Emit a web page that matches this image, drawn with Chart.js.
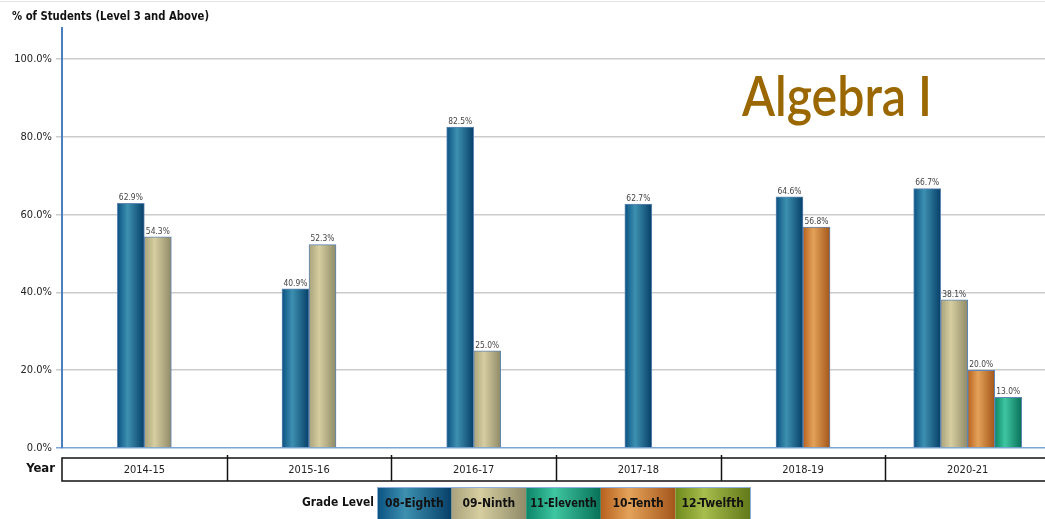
<!DOCTYPE html>
<html>
<head>
<meta charset="utf-8">
<script src="https://cdn.jsdelivr.net/npm/chart.js@4/dist/chart.umd.min.js"></script>
<style>
  html, body { margin: 0; padding: 0; background: #fff; overflow: hidden; }
  #chart { display: block; }
</style>
</head>
<body>
<canvas id="chart" width="1050" height="519"></canvas>
<script>
const years = ['2014-15', '2015-16', '2016-17', '2017-18', '2018-19', '2020-21'];
const eighth = [62.9, 40.9, 82.5, 62.7, 64.6, 66.7];
const ninth = [54.3, 52.3, 25.0, null, null, 38.1];
const tenth = [null, null, null, null, 56.8, 20.0];
const eleventh = [null, null, null, null, null, 13.0];
const twelfth = [null, null, null, null, null, null];
const yTicks = [0, 20, 40, 60, 80, 100];

const narrow = '"Liberation Sans Narrow", "DejaVu Sans Condensed", "Arial Narrow", sans-serif';

// gradient stops per grade: dark edge, light band, dark edge
const shades = {
  '08-Eighth':   ['#0b5282', '#3d90b0', '#063f68'],
  '09-Ninth':    ['#a9a27c', '#d6cea0', '#8f8a68'],
  '10-Tenth':    ['#b8621f', '#e3a259', '#a4561a'],
  '11-Eleventh': ['#0b8468', '#3fc6a0', '#087158'],
  '12-Twelfth':  ['#6f8a1c', '#a7bd4c', '#62791a']
};
const legendOrder = ['08-Eighth', '09-Ninth', '11-Eleventh', '10-Tenth', '12-Twelfth'];

function shade(ctx, name, x0, x1) {
  const c = shades[name];
  const g = ctx.createLinearGradient(x0, 0, x1, 0);
  g.addColorStop(0, c[0]);
  g.addColorStop(0.38, c[1]);
  g.addColorStop(1, c[2]);
  return g;
}

const barShading = {
  id: 'barShading',
  beforeDatasetsDraw(chart) {
    chart.data.datasets.forEach((ds, i) => {
      const meta = chart.getDatasetMeta(i);
      meta.data.forEach((el, j) => {
        if (ds.data[j] == null || !el.options) return;
        el.options.backgroundColor = shade(chart.ctx, ds.label, el.x - el.width / 2, el.x + el.width / 2);
      });
    });
  },
  afterDatasetsDraw(chart) {
    const ctx = chart.ctx;
    ctx.save();
    ctx.font = '9px ' + narrow;
    ctx.fillStyle = '#444';
    ctx.textAlign = 'center';
    ctx.textBaseline = 'bottom';
    chart.data.datasets.forEach((ds, i) => {
      const meta = chart.getDatasetMeta(i);
      meta.data.forEach((el, j) => {
        if (ds.data[j] == null) return;
        ctx.fillText(ds.data[j].toFixed(1) + '%', el.x, el.y - 1, 24);
      });
    });
    ctx.restore();
  }
};

const decorations = {
  id: 'decorations',
  afterDraw(chart) {
    const ctx = chart.ctx;
    const area = chart.chartArea;
    const xs = chart.scales.x;
    ctx.save();

    // faint frame line at top
    ctx.strokeStyle = '#e2e2e2';
    ctx.lineWidth = 1;
    ctx.beginPath(); ctx.moveTo(0, 1.5); ctx.lineTo(1050, 1.5); ctx.stroke();

    // y axis title
    ctx.fillStyle = '#111';
    ctx.font = 'bold 12px ' + narrow;
    ctx.textAlign = 'left';
    ctx.textBaseline = 'middle';
    ctx.fillText('% of Students (Level 3 and Above)', 12, 17, 197);

    // subject title
    ctx.fillStyle = '#9a6700';
    ctx.font = '600 56px Lato, "Open Sans", sans-serif';
    ctx.textBaseline = 'alphabetic';
    ctx.fillText('Algebra I', 742, 116, 190);

    // year table under the axis
    const top = 458, bottom = 481;
    ctx.strokeStyle = '#111';
    ctx.lineWidth = 1.5;
    ctx.strokeRect(area.left, top, area.right - area.left, bottom - top);
    const step = xs.getPixelForValue(1) - xs.getPixelForValue(0);
    for (let i = 0; i < years.length - 1; i++) {
      const x = Math.round(xs.getPixelForValue(i) + step / 2) + 0.5;
      ctx.beginPath(); ctx.moveTo(x, top - 3); ctx.lineTo(x, bottom); ctx.stroke();
    }
    ctx.fillStyle = '#111';
    ctx.font = 'bold 13px ' + narrow;
    ctx.textAlign = 'right';
    ctx.textBaseline = 'middle';
    ctx.fillText('Year', 55, 469, 30);

    // legend
    ctx.fillText('Grade Level', 374, 503, 72);
    const bw = 74.6, bx = 377, by = 487, bh = 34;
    ctx.font = 'bold 12px ' + narrow;
    legendOrder.forEach((name, k) => {
      const x0 = bx + k * bw;
      ctx.fillStyle = shade(ctx, name, x0, x0 + bw);
      ctx.fillRect(x0, by, bw, bh);
      ctx.fillStyle = '#111';
      ctx.textAlign = 'center';
      ctx.fillText(name, x0 + bw / 2, 504, bw - 8);
    });
    ctx.strokeStyle = '#8fb0d6';
    ctx.lineWidth = 1;
    ctx.strokeRect(bx + 0.5, by + 0.5, bw * legendOrder.length, bh);
    ctx.restore();
  }
};

function makeSet(label, data) {
  return {
    label, data,
    backgroundColor: () => '#888',
    borderColor: '#5f86b3',
    borderWidth: 1,
    barThickness: 27,
    skipNull: true
  };
}

new Chart(document.getElementById('chart'), {
  type: 'bar',
  data: {
    labels: years,
    datasets: [
      makeSet('08-Eighth', eighth),
      makeSet('09-Ninth', ninth),
      makeSet('10-Tenth', tenth),
      makeSet('11-Eleventh', eleventh),
      makeSet('12-Twelfth', twelfth)
    ]
  },
  options: {
    responsive: false,
    animation: false,
    layout: { padding: { top: 28, right: 0, bottom: 0, left: 0 } },
    plugins: { legend: { display: false }, tooltip: { enabled: false } },
    scales: {
      x: {
        afterFit(s) { s.height = 71; },
        grid: { display: false },
        border: { display: false },
        ticks: { color: '#222', font: { family: narrow, size: 11 }, padding: 8 }
      },
      y: {
        min: 0,
        max: 108,
        afterFit(s) { s.width = 62; },
        afterBuildTicks(s) { s.ticks = yTicks.map(v => ({ value: v })); },
        grid: {
          color: ctx => ctx.tick && ctx.tick.value === 0 ? '#7aa5d6' : '#cbcbcb',
          lineWidth: 1.5,
          tickLength: 6
        },
        border: { color: '#4a7fc1', width: 2 },
        ticks: {
          color: '#222',
          padding: 4,
          font: { family: narrow, size: 11 },
          callback: v => v.toFixed(1) + '%'
        }
      }
    }
  },
  plugins: [barShading, decorations]
});
</script>
</body>
</html>
